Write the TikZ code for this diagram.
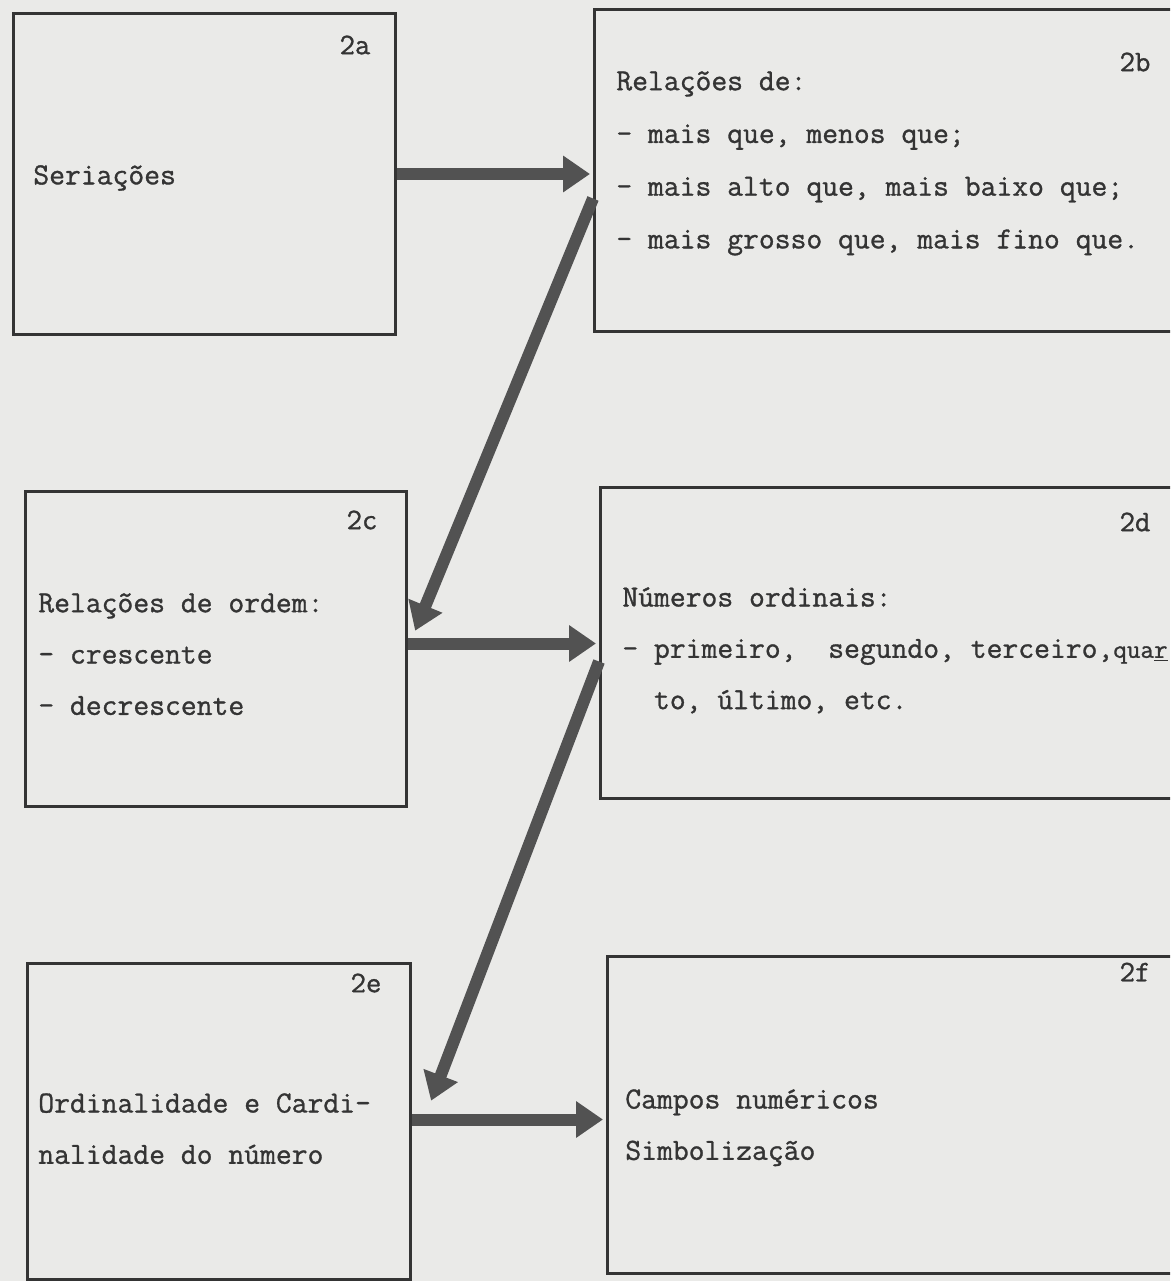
\documentclass[tikz,border=0pt]{standalone}
\usepackage{fontspec}
\setmonofont{Latin Modern Mono}[FakeBold=1]
\usepackage{tikz}
\usetikzlibrary{arrows.meta,positioning}

\definecolor{paper}{RGB}{234,234,232}
\definecolor{ink}{RGB}{52,52,52}
\definecolor{arrowgray}{RGB}{82,82,82}

\begin{document}
\begin{tikzpicture}[
  x=0.2mm, y=-0.2mm,
  box/.style={draw=ink, line width=0.6mm, anchor=north west, inner sep=0pt},
  txt/.style={text=ink, font=\ttfamily\fontsize{17.5}{29.2}\selectfont, align=left, anchor=north west, inner sep=0pt},
  tag/.style={text=ink, font=\ttfamily\fontsize{17}{17}\selectfont, inner sep=0pt},
  flow/.style={draw=arrowgray, line width=2.4mm, -{Triangle[length=5.4mm,width=7mm]}, shorten >=0.6mm}
]
% folha
\path[use as bounding box, fill=paper] (0,0) rectangle (1170,1281);
\clip (0,0) rectangle (1170,1281);

% caixas
\node[box, minimum width=76.4mm, minimum height=64.2mm] (b2a) at (12,12) {};
\node[box, minimum width=121.4mm, minimum height=64.4mm] (b2b) at (593,8) {};
\node[box, minimum width=76.2mm, minimum height=63mm] (b2c) at (24,490) {};
\node[box, minimum width=120.2mm, minimum height=62.2mm] (b2d) at (599,486) {};
\node[box, minimum width=76.6mm, minimum height=63.2mm] (b2e) at (26,962) {};
\node[box, minimum width=118.8mm, minimum height=63.4mm] (b2f) at (606,955) {};

% numeros das caixas
\node[tag] (n2a) at (355,45) {2a};
\node[tag] (n2b) at (1135,62) {2b};
\node[tag] (n2c) at (362,520) {2c};
\node[tag] (n2d) at (1135,522) {2d};
\node[tag] (n2e) at (366,983) {2e};
\node[tag] (n2f) at (1135,972) {2f};

% textos
\node[txt, anchor=west] (t2a) at (33,178) {Seriações};
\node[txt, font=\ttfamily\fontsize{17.5}{30}\selectfont] (t2b) at (616,71) {Relações de:\\
  - mais que, menos que;\\
  - mais alto que, mais baixo que;\\
  - mais grosso que, mais fino que.};
\node[txt] (t2c) at (38,593) {Relações de ordem:\\
  - crescente\\
  - decrescente};
\node[txt] (t2d) at (622,587) {Números ordinais:\\
  - primeiro,\ \ segundo, terceiro,{\fontsize{15}{29}\selectfont qua\underline{r}}\\
  \phantom{- }to, último, etc.};
\node[txt] (t2e) at (38,1093) {Ordinalidade e Cardi-\\
  nalidade do número};
\node[txt] (t2f) at (625,1089) {Campos numéricos\\
  Simbolização};

% setas
\draw[flow] (b2a.east) -- (b2a.east -| b2b.west);
\draw[flow] ([yshift=-5.6mm]b2b.west) -- ([xshift=1.2mm,yshift=3.1mm]b2c.east);
\draw[flow] ([yshift=1.1mm]b2c.east) -- ([yshift=1.1mm]b2c.east -| b2d.west);
\draw[flow] ([yshift=-3.7mm]b2d.west) -- ([xshift=3.6mm,yshift=3.6mm]b2e.east);
\draw[flow] ([yshift=0.4mm]b2e.east) -- ([yshift=0.4mm]b2e.east -| b2f.west);
\end{tikzpicture}
\end{document}
